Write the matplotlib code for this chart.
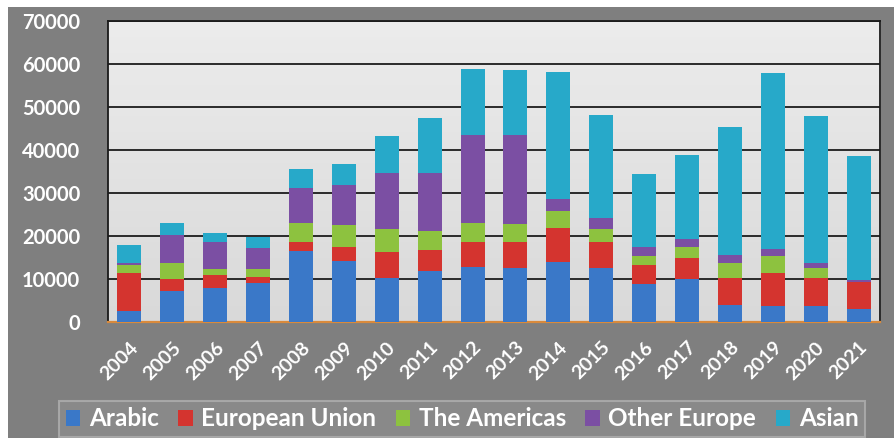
import numpy as np
import matplotlib
matplotlib.use('Agg')
import matplotlib.pyplot as plt
from matplotlib.colors import LinearSegmentedColormap
from matplotlib.patches import Rectangle

plt.rcParams['font.family'] = ['Lato', 'DejaVu Sans']

# ── Data ─────────────────────────────────────────────────────────────────────
years = ['2004', '2005', '2006', '2007', '2008', '2009', '2010', '2011', '2012',
         '2013', '2014', '2015', '2016', '2017', '2018', '2019', '2020', '2021']

arabic       = [2600, 7300, 7900, 9000, 16600, 14200, 10300, 11900, 12900,
                12600, 13900, 12500, 8850, 9900, 3950, 3700, 3700, 3000]
european     = [8900, 2650, 2950, 1400, 2100, 3300, 6000, 4800, 5650,
                6050, 7900, 6200, 4400, 5100, 6350, 7750, 6600, 6300]
americas     = [1650, 3700, 1550, 2000, 4300, 5050, 5350, 4500, 4400,
                4250, 4100, 2900, 2100, 2450, 3350, 3900, 2350, 0]
other_europe = [550, 6600, 6300, 4700, 8150, 9300, 13100, 13500, 20550,
                20550, 2650, 2550, 2000, 1950, 1950, 1550, 1000, 400]
asian        = [4200, 2700, 2100, 2600, 4400, 5000, 8500, 12700, 15350,
                15100, 29700, 23900, 17000, 19350, 29850, 41100, 34350, 28800]

series_names = ['Arabic', 'European Union', 'The Americas', 'Other Europe', 'Asian']
series_vals = [arabic, european, americas, other_europe, asian]
series_colors = ['#3a78c8', '#d4342f', '#8dc23f', '#7b4fa3', '#27a9c9']

# ── Figure ───────────────────────────────────────────────────────────────────
W, H = 894, 438
fig = plt.figure(figsize=(W / 100, H / 100), dpi=100, facecolor='white')

# gray chart background (white strip at top / left like the cropped original)
fig.patches.append(Rectangle((8 / W, 0), 1, (H - 7) / H, transform=fig.transFigure,
                             facecolor='#7f7f7f', edgecolor='none', zorder=-5))

ax = fig.add_axes([108 / W, (H - 322) / H, (880 - 108) / W, (322 - 21) / H])
ax.set_facecolor('#e4e4e4')

# plot area gradient
grad = np.linspace(0, 1, 256).reshape(-1, 1)
ax.imshow(grad, aspect='auto', cmap=LinearSegmentedColormap.from_list('bg', ['#ececec', '#d9d9d9']),
          extent=[-0.5, 17.5, 0, 70000], origin='upper', zorder=0)

x = np.arange(len(years))
bottom = np.zeros(len(years))
for name, vals, col in zip(series_names, series_vals, series_colors):
    ax.bar(x, vals, width=0.56, bottom=bottom, color=col, label=name, zorder=3,
           edgecolor='none')
    bottom += np.array(vals)

ax.set_xlim(-0.5, 17.5)
ax.set_ylim(0, 70000)
ax.set_yticks(range(0, 70001, 10000))
ax.yaxis.grid(True, color='#2a2a2a', linewidth=1.4, zorder=1)
ax.set_axisbelow(True)

for s in ['top', 'right', 'left']:
    ax.spines[s].set_color('#1a1a1a')
    ax.spines[s].set_linewidth(1.3)
ax.spines['bottom'].set_color('#d98a3c')
ax.spines['bottom'].set_linewidth(1.6)

ax.tick_params(axis='both', length=0, colors='white')
ax.set_xticks(x)
ax.set_xticklabels(years, rotation=45, ha='right', rotation_mode='anchor',
                   fontsize=14, fontweight='bold', color='white')
ax.tick_params(axis='x', pad=12)
for lbl in ax.get_yticklabels():
    lbl.set_fontsize(14.5)
    lbl.set_fontweight('bold')
    lbl.set_color('white')
ax.tick_params(axis='y', pad=20)

leg = fig.legend(loc='center', bbox_to_anchor=(462 / W, (H - 419) / H),
                 ncol=5, frameon=True, fancybox=False,
                 handlelength=0.6, handleheight=0.6, handletextpad=0.35,
                 columnspacing=0.8, borderpad=0.25,
                 prop={'size': 17.5, 'weight': 'bold'}, labelcolor='white')
leg.get_frame().set_facecolor('#8c8c8c')
leg.get_frame().set_edgecolor('#b0b0b0')
leg.get_frame().set_linewidth(1.5)

fig.savefig('out.png', dpi=100, facecolor=fig.get_facecolor())
